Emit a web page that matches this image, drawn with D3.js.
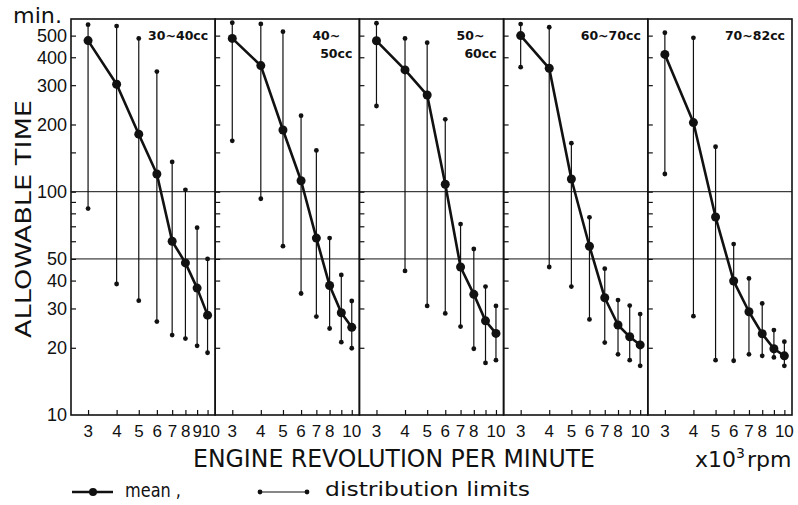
<!DOCTYPE html>
<html>
<head>
<meta charset="utf-8">
<script src="https://cdn.jsdelivr.net/npm/d3@7"></script>
<style>
  html, body { margin: 0; padding: 0; background: #fff; }
  svg { display: block; }
  text { fill: #111; }
</style>
</head>
<body>
<svg id="chart" width="798" height="505"></svg>
<script>
// Engine speed (x10^3 rpm) at which each measurement was taken
const rpm = [3, 4, 5, 6, 7, 8, 9, 10];

// Displacement classes, one panel each (second line used for stacked labels)
const classLine1 = ["30~40cc", "40~", "50~", "60~70cc", "70~82cc"];
const classLine2 = ["", "50cc", "60cc", "", ""];

// Allowable time (min.): mean and distribution limits per class
const mean_30_40  = [475, 303, 181, 120, 60, 48, 37, 28];
const upper_30_40 = [560, 552, 486, 345, 136, 102, 69, 50];
const lower_30_40 = [84, 38.6, 32.5, 26.2, 22.8, 22, 20.4, 19];

const mean_40_50  = [486, 367, 189, 112, 62, 38, 28.7, 24.7];
const upper_40_50 = [571, 564, 521, 219, 153, 62, 42.4, 32.4];
const lower_40_50 = [169, 93, 57, 35, 27.6, 24.4, 21.2, 19.9];

const mean_50_60  = [474, 351, 271, 108, 46, 34.7, 26.4, 23.2];
const upper_50_60 = [568, 486, 465, 211, 71.6, 55.4, 37.6, 30.8];
const lower_50_60 = [242, 44.2, 30.8, 28.5, 24.9, 19.8, 17.1, 17.6];

const mean_60_70  = [500, 357, 114, 57, 33.5, 25.3, 22.4, 20.6];
const upper_60_70 = [563, 545, 165, 76.8, 45.2, 32.7, 30.9, 28.3];
const lower_60_70 = [361, 46, 37.6, 26.8, 21.1, 18.7, 17.6, 16.6];

const mean_70_82  = [412, 204, 77, 39.8, 29, 23.1, 19.8, 18.4];
const upper_70_82 = [515, 489, 159, 58.3, 40.9, 31.6, 24, 21.3];
const lower_70_82 = [120, 27.7, 17.6, 17.5, 18.7, 18.4, 18.1, 16.6];

// Axis ticks
const yTickLabels = [10, 20, 30, 40, 50, 100, 200, 300, 400, 500];
const yTickMarks = [20, 30, 40, 50, 60, 70, 80, 90, 100, 150, 200, 300, 400, 500];
const xTickLabelsFirst = [3, 4, 5, 6, 7, 8, 9, 10];
const xTickLabelsOther = [3, 4, 5, 6, 7, 8, 10];
const refLines = [100, 50];

const means = [mean_30_40, mean_40_50, mean_50_60, mean_60_70, mean_70_82];
const uppers = [upper_30_40, upper_40_50, upper_50_60, upper_60_70, upper_70_82];
const lowers = [lower_30_40, lower_40_50, lower_50_60, lower_60_70, lower_70_82];

// Layout
const plotLeft = 71, plotRight = 792, plotTop = 19, plotBottom = 415;
const nPanels = means.length;
const pw = (plotRight - plotLeft) / nPanels;

const svg = d3.select("#chart");
const y = d3.scaleLog().domain([10, 593.5]).range([plotBottom, plotTop]);
const panelX = i => d3.scaleLog().domain([2.526, 10.8])
  .range([plotLeft + i * pw, plotLeft + (i + 1) * pw]);

const ink = "#111";

// Reference lines at 100 and 50 min across all panels
svg.append("g").selectAll("line").data(refLines).join("line")
  .attr("x1", plotLeft).attr("x2", plotRight)
  .attr("y1", d => y(d)).attr("y2", d => y(d))
  .attr("stroke", ink).attr("stroke-width", 1);

for (let i = 0; i < nPanels; i++) {
  const x = panelX(i);
  const g = svg.append("g");
  const x0 = plotLeft + i * pw, x1 = plotLeft + (i + 1) * pw;

  // Inward tick marks on the left edge of the panel
  g.append("g").attr("transform", `translate(${x0},0)`)
    .call(d3.axisRight(y).tickValues(yTickMarks).tickSize(5).tickFormat(""))
    .call(a => a.select(".domain").remove())
    .selectAll("line").attr("stroke", ink).attr("stroke-width", 1.2);

  // Inward tick marks along the bottom, with rpm labels
  const labels = i === 0 ? xTickLabelsFirst : xTickLabelsOther;
  g.append("g").attr("transform", `translate(0,${plotBottom})`)
    .call(d3.axisTop(x).tickValues(rpm).tickSize(5).tickFormat(""))
    .call(a => a.select(".domain").remove())
    .selectAll("line").attr("stroke", ink).attr("stroke-width", 1.2);

  g.append("g").selectAll("text").data(labels).join("text")
    .attr("x", d => x(d) + (i === 0 && d === 10 ? 3 : 0))
    .attr("y", 437)
    .attr("text-anchor", "middle")
    .attr("font-family", "Liberation Sans, Arial, sans-serif")
    .attr("font-size", 17)
    .attr("letter-spacing", i === 0 ? -0.5 : 0)
    .text(d => d);

  // Distribution limits: thin vertical ranges with small end dots
  const pts = rpm.map((r, k) => ({ r, m: means[i][k], hi: uppers[i][k], lo: lowers[i][k] }));
  g.append("g").selectAll("line").data(pts).join("line")
    .attr("x1", d => x(d.r)).attr("x2", d => x(d.r))
    .attr("y1", d => y(d.hi)).attr("y2", d => y(d.lo))
    .attr("stroke", ink).attr("stroke-width", 1.2);
  g.append("g").selectAll("circle")
    .data(pts.flatMap(d => [{ r: d.r, v: d.hi }, { r: d.r, v: d.lo }]))
    .join("circle")
    .attr("cx", d => x(d.r)).attr("cy", d => y(d.v)).attr("r", 2.4)
    .attr("fill", ink);

  // Mean curve
  g.append("path").datum(pts)
    .attr("d", d3.line().x(d => x(d.r)).y(d => y(d.m)))
    .attr("fill", "none").attr("stroke", ink).attr("stroke-width", 2.6)
    .attr("stroke-linejoin", "round");
  g.append("g").selectAll("circle").data(pts).join("circle")
    .attr("cx", d => x(d.r)).attr("cy", d => y(d.m)).attr("r", 4.5)
    .attr("fill", ink);

  // Panel frame
  g.append("rect")
    .attr("x", x0).attr("y", plotTop).attr("width", x1 - x0).attr("height", plotBottom - plotTop)
    .attr("fill", "none").attr("stroke", ink).attr("stroke-width", 1.6);

  // Displacement class label
  const lab = g.append("g")
    .attr("font-family", "DejaVu Sans, sans-serif")
    .attr("font-weight", "bold").attr("font-size", 12.5);
  if (classLine2[i]) {
    lab.append("text").attr("x", x1 - 47).attr("y", 40).attr("text-anchor", "start").text(classLine1[i]);
    lab.append("text").attr("x", x1 - 7).attr("y", 58).attr("text-anchor", "end").text(classLine2[i]);
  } else {
    lab.append("text").attr("x", x1 - 7).attr("y", 40).attr("text-anchor", "end").text(classLine1[i]);
  }
}

// Y tick labels on the outer left axis
svg.append("g").selectAll("text").data(yTickLabels).join("text")
  .attr("x", 67).attr("y", d => y(d)).attr("dy", "0.36em")
  .attr("text-anchor", "end")
  .attr("font-family", "Liberation Sans, Arial, sans-serif")
  .attr("font-size", 18)
  .text(d => d);

// Unit and axis titles
svg.append("text").attr("x", 13).attr("y", 23)
  .attr("font-family", "DejaVu Sans, sans-serif").attr("font-size", 21)
  .attr("textLength", 49).attr("lengthAdjust", "spacingAndGlyphs")
  .text("min.");

svg.append("text")
  .attr("transform", "translate(31,219) rotate(-90)")
  .attr("text-anchor", "middle")
  .attr("font-family", "DejaVu Sans, sans-serif").attr("font-size", 22)
  .attr("textLength", 238).attr("lengthAdjust", "spacingAndGlyphs")
  .text("ALLOWABLE TIME");

svg.append("text").attr("x", 193).attr("y", 467)
  .attr("font-family", "DejaVu Sans, sans-serif").attr("font-size", 24)
  .attr("textLength", 402).attr("lengthAdjust", "spacingAndGlyphs")
  .text("ENGINE REVOLUTION PER MINUTE");

const unit = svg.append("text").attr("x", 695).attr("y", 467)
  .attr("font-family", "DejaVu Sans, sans-serif").attr("font-size", 22);
unit.append("tspan").text("x10");
unit.append("tspan").attr("dy", -9).attr("font-size", 14).text("3");
unit.append("tspan").attr("dy", 9).attr("dx", 2).text("rpm");

// Legend
const leg = svg.append("g");
leg.append("line").attr("x1", 72).attr("x2", 113).attr("y1", 492).attr("y2", 492)
  .attr("stroke", ink).attr("stroke-width", 2.4);
leg.append("circle").attr("cx", 93).attr("cy", 492).attr("r", 4).attr("fill", ink);
leg.append("text").attr("x", 125).attr("y", 497)
  .attr("font-family", "DejaVu Sans, sans-serif").attr("font-size", 19)
  .attr("textLength", 56).attr("lengthAdjust", "spacingAndGlyphs")
  .text("mean ,");
leg.append("line").attr("x1", 260).attr("x2", 307).attr("y1", 492).attr("y2", 492)
  .attr("stroke", ink).attr("stroke-width", 1.2);
leg.selectAll("circle.end").data([260, 307]).join("circle").attr("class", "end")
  .attr("cx", d => d).attr("cy", 492).attr("r", 2.4).attr("fill", ink);
leg.append("text").attr("x", 325).attr("y", 496)
  .attr("font-family", "DejaVu Sans, sans-serif").attr("font-size", 20)
  .attr("textLength", 205).attr("lengthAdjust", "spacingAndGlyphs")
  .text("distribution limits");
</script>
</body>
</html>
